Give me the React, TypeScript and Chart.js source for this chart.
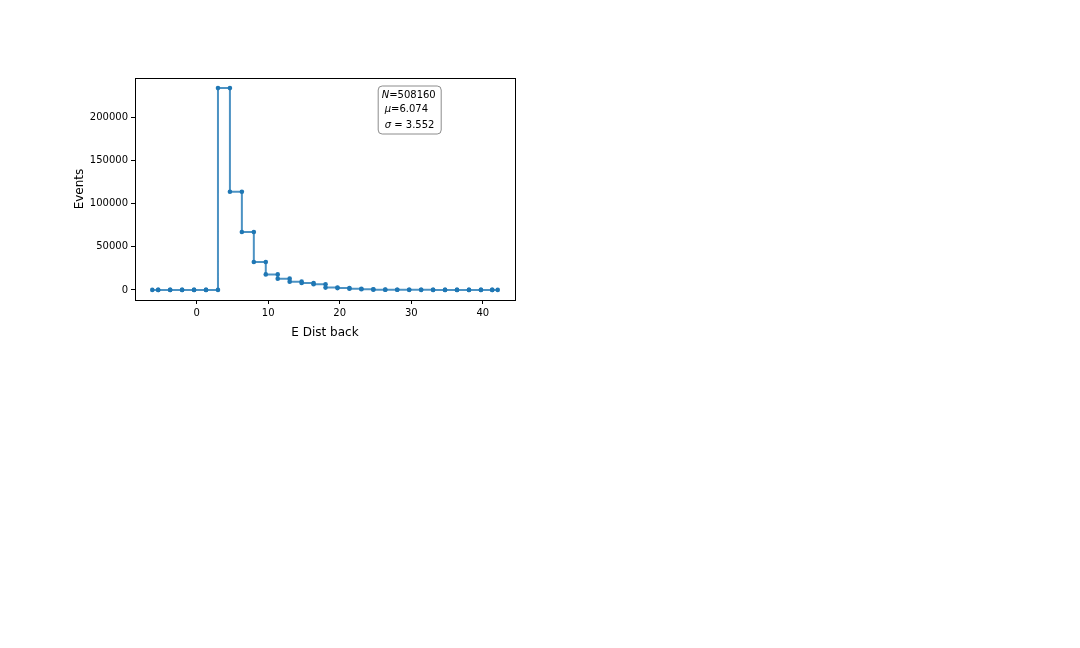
import React, { useEffect, useRef } from "react";
import { Chart, registerables } from "chart.js";

Chart.register(...registerables);

// Step positions (bin edges as drawn) and counts for each interval
const stepEdges: number[] = [
  -6.19, -5.36, -3.69, -2.02, -0.35, 1.32, 2.99, 4.66, 6.33, 8.0, 9.67,
  11.34, 13.01, 14.68, 16.35, 18.02, 19.69, 21.36, 23.03, 24.7, 26.37,
  28.04, 29.71, 31.38, 33.05, 34.72, 36.39, 38.06, 39.73, 41.31, 42.08,
];
const counts: number[] = [
  0, 0, 0, 0, 0, 0, 234500, 114000, 67300, 32500, 18000, 13100, 9600, 8000,
  6500, 2700, 2100, 1300, 800, 300, 150, 100, 60, 40, 20, 10, 5, 3, 2, 1,
];
const xTicks: number[] = [0, 10, 20, 30, 40];
const yTicks: number[] = [0, 50000, 100000, 150000, 200000];
const statLines: { sym: string; rest: string }[] = [
  { sym: "N", rest: "=508160" },
  { sym: "\u03bc", rest: "=6.074" },
  { sym: "\u03c3", rest: " = 3.552" },
];
const xLabel = "E Dist back";
const yLabel = "Events";

const FONT = "'DejaVu Sans', sans-serif";

export default function App() {
  const ref = useRef<HTMLCanvasElement | null>(null);

  useEffect(() => {
    if (!ref.current) return;
    const points: { x: number; y: number }[] = [];
    for (let i = 0; i < counts.length; i++) {
      points.push({ x: stepEdges[i], y: counts[i] });
      points.push({ x: stepEdges[i + 1], y: counts[i] });
    }
    const xMinD = Math.min(...stepEdges);
    const xMaxD = Math.max(...stepEdges);
    const yMinD = Math.min(...counts);
    const yMaxD = Math.max(...counts);
    const xm = (xMaxD - xMinD) * 0.05;
    const ym = (yMaxD - yMinD) * 0.05;

    const framePlugin = {
      id: "frame",
      afterDraw(chart: any) {
        const { ctx, chartArea: ca } = chart;
        ctx.save();
        ctx.strokeStyle = "#000";
        ctx.lineWidth = 1;
        ctx.strokeRect(
          Math.round(ca.left) + 0.5,
          Math.round(ca.top) + 0.5,
          Math.round(ca.right - ca.left),
          Math.round(ca.bottom - ca.top)
        );
        // stats box
        const bx = ca.left + 0.64 * (ca.right - ca.left);
        const by = ca.top + 8;
        const bw = 63;
        const bh = 48;
        const r = 4;
        ctx.beginPath();
        ctx.moveTo(bx + r, by);
        ctx.lineTo(bx + bw - r, by);
        ctx.arcTo(bx + bw, by, bx + bw, by + r, r);
        ctx.lineTo(bx + bw, by + bh - r);
        ctx.arcTo(bx + bw, by + bh, bx + bw - r, by + bh, r);
        ctx.lineTo(bx + r, by + bh);
        ctx.arcTo(bx, by + bh, bx, by + bh - r, r);
        ctx.lineTo(bx, by + r);
        ctx.arcTo(bx, by, bx + r, by, r);
        ctx.closePath();
        ctx.fillStyle = "#fff";
        ctx.fill();
        ctx.strokeStyle = "#8c8c8c";
        ctx.lineWidth = 1;
        ctx.stroke();
        ctx.fillStyle = "#000";
        ctx.textBaseline = "middle";
        ctx.textAlign = "left";
        const lineY = [by + 9.5, by + 23.5, by + 39.5];
        const lineX = [bx + 3.5, bx + 6.5, bx + 6.5];
        statLines.forEach((l, i) => {
          ctx.font = `italic 10px ${FONT}`;
          ctx.fillText(l.sym, lineX[i], lineY[i]);
          const w = ctx.measureText(l.sym).width;
          ctx.font = `10px ${FONT}`;
          ctx.fillText(l.rest, lineX[i] + w, lineY[i]);
        });
        ctx.restore();
      },
    };

    const chart = new Chart(ref.current, {
      type: "line",
      data: {
        datasets: [
          {
            data: points,
            borderColor: "rgba(31,119,180,0.8)",
            borderWidth: 2,
            pointRadius: 2.3,
            pointBackgroundColor: "#1f77b4",
            pointBorderWidth: 0,
            pointBorderColor: "#1f77b4",
            fill: false,
            tension: 0,
          },
        ],
      },
      options: {
        animation: false,
        responsive: false,
        maintainAspectRatio: false,
        layout: { padding: { left: 68, top: 78, right: 565, bottom: 306 } },
        plugins: {
          legend: { display: false },
          tooltip: { enabled: false },
        },
        scales: {
          x: {
            type: "linear",
            min: xMinD - xm,
            max: xMaxD + xm,
            afterBuildTicks: (s: any) => {
              s.ticks = xTicks.map((v) => ({ value: v }));
            },
            afterFit: (s: any) => {
              s.height = 42;
            },
            grid: {
              drawOnChartArea: false,
              drawTicks: true,
              tickLength: 4,
              tickColor: "#000",
            },
            border: { display: true, color: "#000" },
            ticks: {
              color: "#000",
              padding: 3,
              maxRotation: 0,
              font: { family: FONT, size: 10 },
            },
            title: {
              display: true,
              text: xLabel,
              color: "#000",
              font: { family: FONT, size: 12 },
              padding: { top: 4, bottom: 2 },
            },
          },
          y: {
            type: "linear",
            min: yMinD - ym,
            max: yMaxD + ym,
            afterBuildTicks: (s: any) => {
              s.ticks = yTicks.map((v) => ({ value: v }));
            },
            afterFit: (s: any) => {
              s.width = 67;
            },
            grid: {
              drawOnChartArea: false,
              drawTicks: true,
              tickLength: 4,
              tickColor: "#000",
            },
            border: { display: true, color: "#000" },
            ticks: {
              color: "#000",
              padding: 3,
              font: { family: FONT, size: 10 },
              callback: (v: any) => String(v),
            },
            title: {
              display: true,
              text: yLabel,
              color: "#000",
              font: { family: FONT, size: 12 },
              padding: { top: 5, bottom: 4 },
            },
          },
        },
      },
      plugins: [framePlugin],
    } as any);
    return () => chart.destroy();
  }, []);

  return (
    <div
      style={{
        position: "absolute",
        left: 0,
        top: 0,
        width: 1080,
        height: 648,
        background: "#fff",
      }}
    >
      <canvas ref={ref} width={1080} height={648} style={{ width: 1080, height: 648 }} />
    </div>
  );
}
